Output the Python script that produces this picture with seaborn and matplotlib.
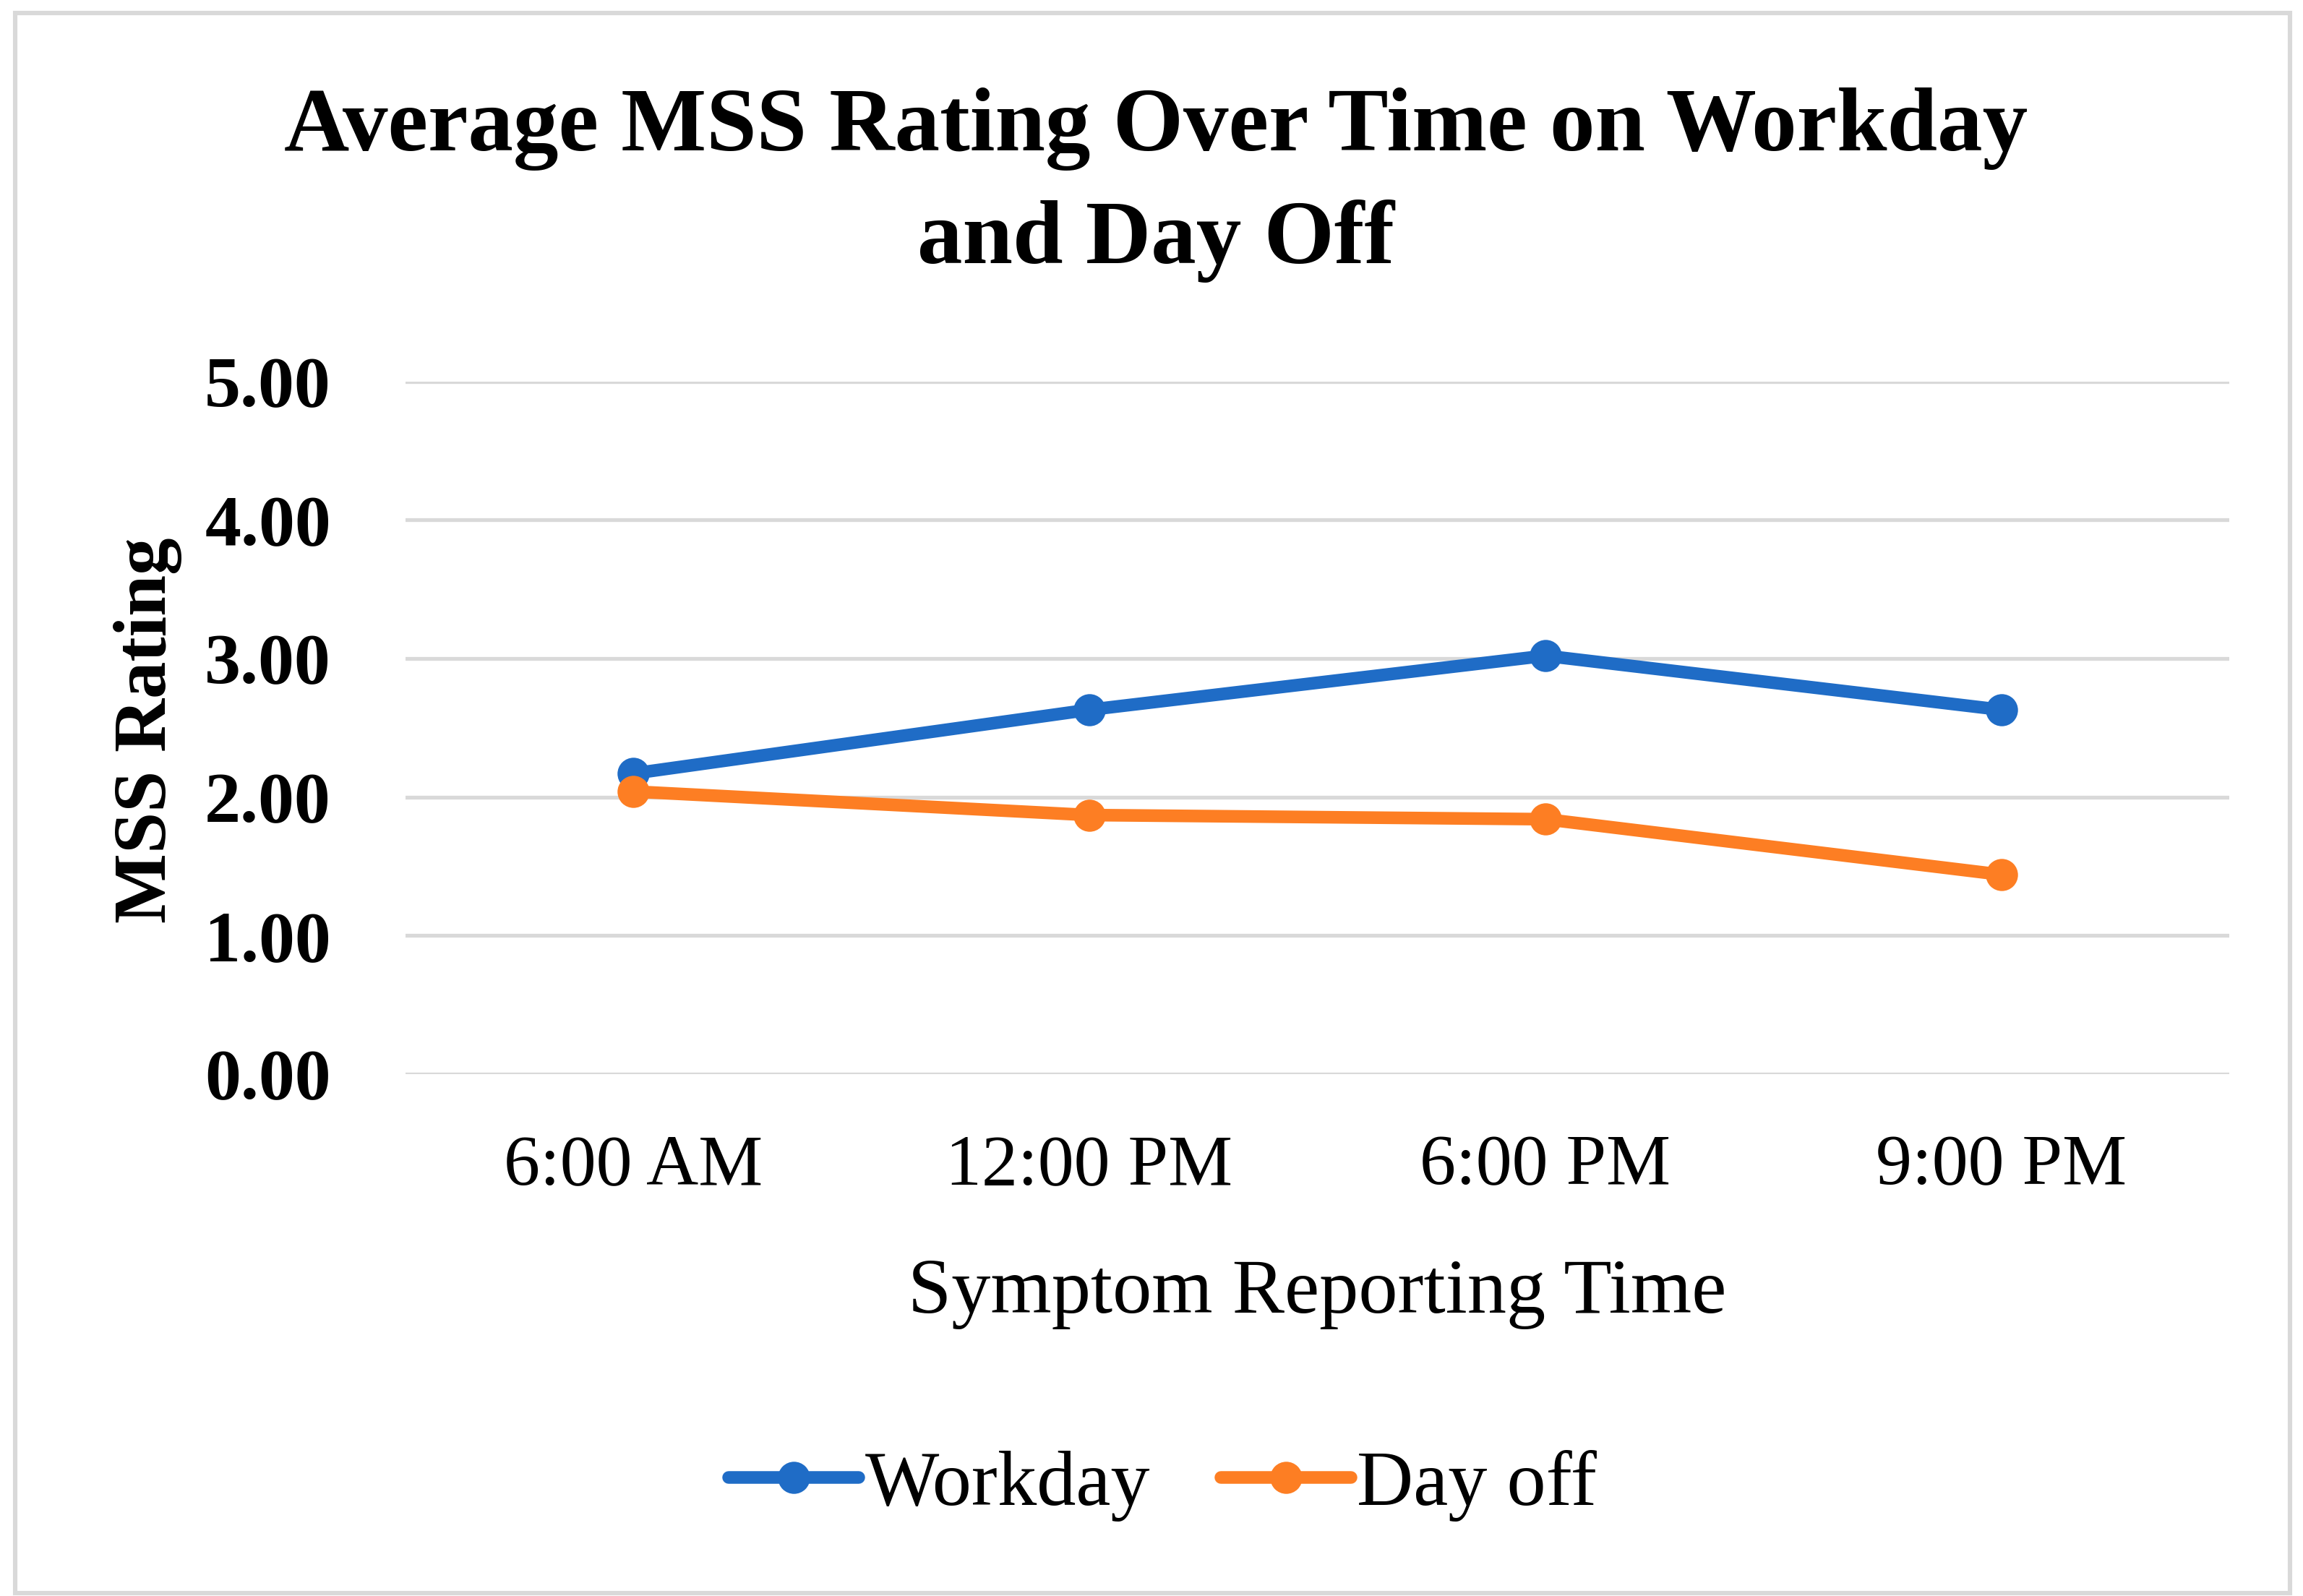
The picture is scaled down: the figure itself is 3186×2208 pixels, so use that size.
import matplotlib
matplotlib.use("Agg")
import matplotlib.pyplot as plt
import seaborn as sns
import pandas as pd
from matplotlib.patches import Rectangle

# ---- data ----
times = ["6:00 AM", "12:00 PM", "6:00 PM", "9:00 PM"]
workday = [2.17, 2.63, 3.02, 2.63]
day_off = [2.04, 1.87, 1.84, 1.44]
series_names = ["Workday", "Day off"]
y_ticks = [0, 1, 2, 3, 4, 5]

df = pd.DataFrame({
    "time": times * 2,
    "rating": workday + day_off,
    "series": [series_names[0]] * len(times) + [series_names[1]] * len(times),
})

sns.set_theme(style="white")
plt.rcParams["font.family"] = ["Liberation Serif", "DejaVu Serif"]
plt.rcParams["text.color"] = "black"
plt.rcParams["axes.labelcolor"] = "black"
plt.rcParams["xtick.color"] = "black"
plt.rcParams["ytick.color"] = "black"

colors = {"Workday": "#1f6cc6", "Day off": "#fd7e23"}

fig = plt.figure(figsize=(15.93, 11.04), dpi=200)
ax = fig.add_axes([0.176, 0.327, 0.792, 0.434])

sns.lineplot(data=df, x="time", y="rating", hue="series", palette=colors,
             marker="o", markersize=16, markeredgewidth=0, linewidth=6.3,
             sort=False, ax=ax, legend=True)

ax.set_xlim(-0.5, len(times) - 0.5)
ax.set_ylim(0, 5)
ax.set_yticks(y_ticks)
ax.set_yticklabels([f"{v:.2f}" for v in y_ticks], fontsize=36, fontweight="bold")
ax.set_xticks(range(len(times)))
ax.set_xticklabels(times, fontsize=36)
ax.tick_params(axis="y", length=0, pad=37)
ax.tick_params(axis="x", length=0, pad=30)

ax.grid(axis="y", color="#d9d9d9", linewidth=1.9)
ax.grid(axis="x", visible=False)
for s in ax.spines.values():
    s.set_visible(False)

ax.set_xlabel("Symptom Reporting Time", fontsize=39, va="center")
ax.xaxis.set_label_coords(0.5, -0.317)
ax.set_ylabel("MSS Rating", fontsize=37, fontweight="bold", va="center")
ax.yaxis.set_label_coords(-0.141, 0.496)

fig.text(0.502, 0.884, "Average MSS Rating Over Time on Workday\nand Day Off",
         ha="center", va="center", fontsize=45, fontweight="bold",
         linespacing=1.45)

handles, labels = ax.get_legend_handles_labels()
ax.legend(handles, labels, loc="center", bbox_to_anchor=(0.505, 0.069),
          bbox_transform=fig.transFigure, ncol=2, frameon=False,
          fontsize=39, handlelength=1.66, handletextpad=0.08,
          columnspacing=0.9, markerscale=1.0)

fig.patches.append(Rectangle((0.0065, 0.002), 0.988, 0.99, transform=fig.transFigure,
                             fill=False, edgecolor="#d9d9d9", linewidth=2.2))

fig.savefig("out.png", dpi=200)
